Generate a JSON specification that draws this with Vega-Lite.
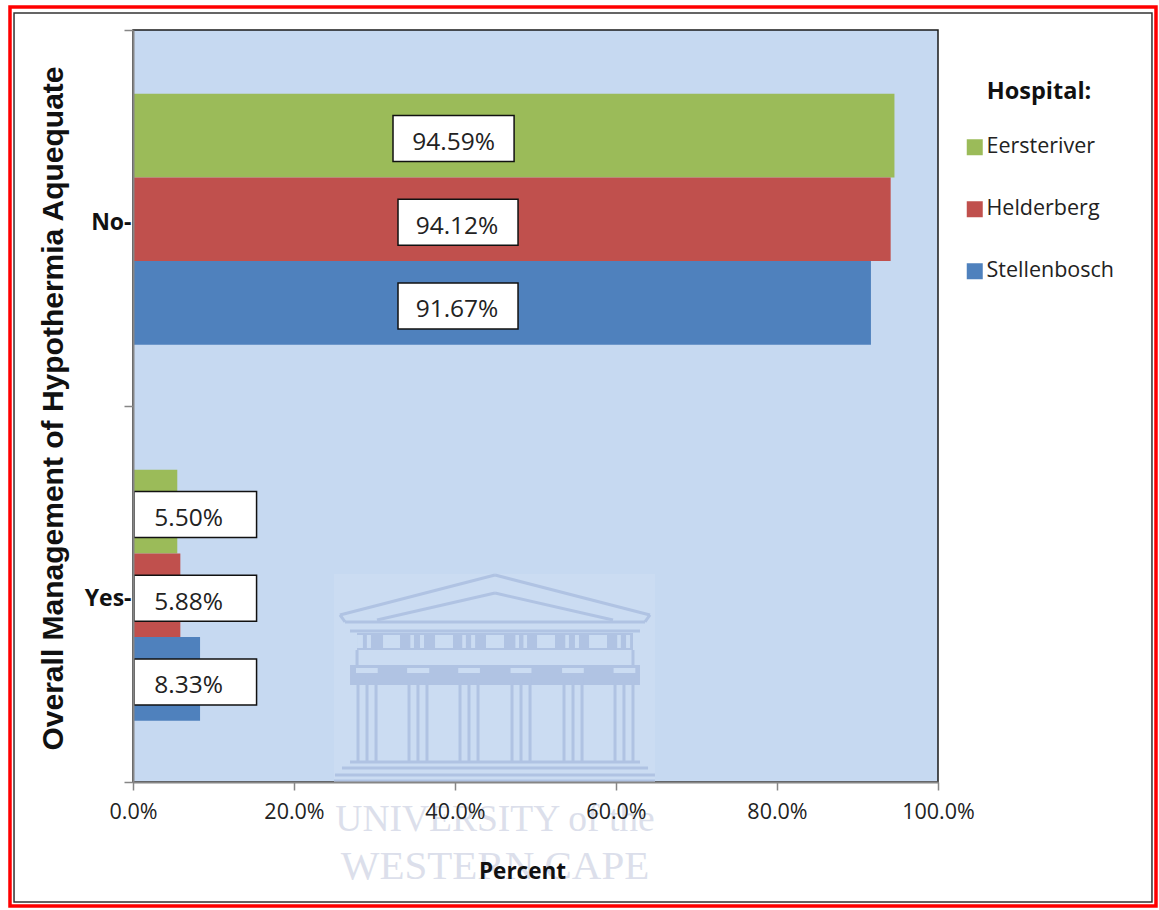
{
"$schema":"https://vega.github.io/schema/vega-lite/v6.json",
"width":805,"height":752,
"autosize":"none",
"padding":{"left":133,"top":30,"right":221,"bottom":128},
"background":"#ffffff",
"config":{"view":{"fill":"#C6D9F1","stroke":"#1a1a1a","strokeWidth":1.5}},
"datasets":{
"bars":[
{"mgmt":"No","hospital":"Eersteriver","pct":0.9459},
{"mgmt":"No","hospital":"Helderberg","pct":0.9412},
{"mgmt":"No","hospital":"Stellenbosch","pct":0.9167},
{"mgmt":"Yes","hospital":"Eersteriver","pct":0.055},
{"mgmt":"Yes","hospital":"Helderberg","pct":0.0588},
{"mgmt":"Yes","hospital":"Stellenbosch","pct":0.0833}],
"lines":[
{"x":0.2571,"x2":0.4497,"y":0.2221,"y2":0.2753},{"x":0.4497,"x2":0.6422,"y":0.2753,"y2":0.2221},
{"x":0.3031,"x2":0.4497,"y":0.2154,"y2":0.2513},{"x":0.4497,"x2":0.5963,"y":0.2513,"y2":0.2154},
{"x":0.2634,"x2":0.6360,"y":0.2128,"y2":0.2128},{"x":0.2696,"x2":0.6298,"y":0.2008,"y2":0.2008},
{"x":0.2571,"x2":0.2634,"y":0.2221,"y2":0.2128},{"x":0.6422,"x2":0.6360,"y":0.2221,"y2":0.2128},
{"x":0.2783,"x2":0.2783,"y":0.1755,"y2":0.1556},{"x":0.6211,"x2":0.6211,"y":0.1755,"y2":0.1556},
{"x":0.2795,"x2":0.2795,"y":0.1396,"y2":0.0266},{"x":0.2907,"x2":0.2907,"y":0.1396,"y2":0.0266},{"x":0.3019,"x2":0.3019,"y":0.1396,"y2":0.0266},
{"x":0.3429,"x2":0.3429,"y":0.1396,"y2":0.0266},{"x":0.3540,"x2":0.3540,"y":0.1396,"y2":0.0266},{"x":0.3652,"x2":0.3652,"y":0.1396,"y2":0.0266},
{"x":0.4062,"x2":0.4062,"y":0.1396,"y2":0.0266},{"x":0.4174,"x2":0.4174,"y":0.1396,"y2":0.0266},{"x":0.4286,"x2":0.4286,"y":0.1396,"y2":0.0266},
{"x":0.4708,"x2":0.4708,"y":0.1396,"y2":0.0266},{"x":0.4820,"x2":0.4820,"y":0.1396,"y2":0.0266},{"x":0.4932,"x2":0.4932,"y":0.1396,"y2":0.0266},
{"x":0.5354,"x2":0.5354,"y":0.1396,"y2":0.0266},{"x":0.5466,"x2":0.5466,"y":0.1396,"y2":0.0266},{"x":0.5578,"x2":0.5578,"y":0.1396,"y2":0.0266},
{"x":0.5988,"x2":0.5988,"y":0.1396,"y2":0.0266},{"x":0.6099,"x2":0.6099,"y":0.1396,"y2":0.0266},{"x":0.6211,"x2":0.6211,"y":0.1396,"y2":0.0266},
{"x":0.2696,"x2":0.6298,"y":0.0266,"y2":0.0266},{"x":0.2596,"x2":0.6398,"y":0.0186,"y2":0.0186},{"x":0.2509,"x2":0.6484,"y":0.0093,"y2":0.0093},{"x":0.2497,"x2":0.6484,"y":0.0013,"y2":0.0013}],
"darkBands":[
{"x":0.2783,"x2":0.6211,"y":0.1981,"y2":0.1755},
{"x":0.2696,"x2":0.6298,"y":0.1556,"y2":0.1290}],
"lightBands":[
{"x":0.3106,"x2":0.3317,"y":0.1955,"y2":0.1782},{"x":0.3752,"x2":0.3975,"y":0.1955,"y2":0.1782},
{"x":0.4385,"x2":0.4609,"y":0.1955,"y2":0.1782},{"x":0.5019,"x2":0.5242,"y":0.1955,"y2":0.1782},
{"x":0.5665,"x2":0.5888,"y":0.1955,"y2":0.1782},
{"x":0.2783,"x2":0.2856,"y":0.1955,"y2":0.1782},{"x":0.2905,"x2":0.2956,"y":0.1955,"y2":0.1782},
{"x":0.3445,"x2":0.3490,"y":0.1955,"y2":0.1782},{"x":0.3565,"x2":0.3615,"y":0.1955,"y2":0.1782},
{"x":0.4090,"x2":0.4135,"y":0.1955,"y2":0.1782},{"x":0.4200,"x2":0.4250,"y":0.1955,"y2":0.1782},
{"x":0.4750,"x2":0.4795,"y":0.1955,"y2":0.1782},{"x":0.4850,"x2":0.4895,"y":0.1955,"y2":0.1782},
{"x":0.5370,"x2":0.5415,"y":0.1955,"y2":0.1782},{"x":0.5490,"x2":0.5540,"y":0.1955,"y2":0.1782},
{"x":0.6015,"x2":0.6060,"y":0.1955,"y2":0.1782},{"x":0.6125,"x2":0.6175,"y":0.1955,"y2":0.1782},
{"x":0.2770,"x2":0.3040,"y":0.1516,"y2":0.1449},{"x":0.3405,"x2":0.3680,"y":0.1516,"y2":0.1449},
{"x":0.4040,"x2":0.4310,"y":0.1516,"y2":0.1449},{"x":0.4690,"x2":0.4950,"y":0.1516,"y2":0.1449},
{"x":0.5330,"x2":0.5600,"y":0.1516,"y2":0.1449},{"x":0.5970,"x2":0.6240,"y":0.1516,"y2":0.1449}]
},
"resolve":{"scale":{"y":"independent"}},
"layer":[
{"layer":[
{"data":{"values":[{}]},"mark":{"type":"rect","fill":"#CBDCF2"},"encoding":{
"x":{"datum":0.2497,"type":"quantitative","scale":{"domain":[0,1],"nice":false},
"axis":{"title":"Percent","orient":"bottom","format":".1%","values":[0,0.2,0.4,0.6,0.8,1],"grid":false,"titleFont":"Open Sans","titleFontSize":22.5,"titleFontWeight":"bold","titleColor":"#111111","titleX":389,"titleY":89,"titleBaseline":"middle","labelFont":"Open Sans","labelFontSize":21.5,"labelColor":"#222222","labelPadding":11,"labelFlush":false,"tickSize":8,"tickColor":"#868686","tickWidth":1.5,"domainColor":"#868686","domainWidth":2,"zindex":1}},"x2":{"datum":0.6484},
"y":{"datum":0.2766,"type":"quantitative","scale":{"domain":[0,1],"nice":false},
"axis":{"orient":"left","title":"Overall Management of Hypothermia Aquequate","values":[0,0.5,1],"labels":false,"grid":false,"titleFont":"Liberation Sans","titleFontSize":30,"titleFontWeight":"bold","titleColor":"#111111","titleX":-80,"titleY":378,"titleBaseline":"middle","tickSize":9,"tickColor":"#868686","tickWidth":1.5,"domainColor":"#868686","domainWidth":2,"zindex":1}},"y2":{"datum":0}}},
{"data":{"name":"darkBands"},"mark":{"type":"rect","fill":"#B0C3E3"},"encoding":{
"x":{"field":"x","type":"quantitative"},"x2":{"field":"x2"},"y":{"field":"y","type":"quantitative"},"y2":{"field":"y2"}}},
{"data":{"name":"lightBands"},"mark":{"type":"rect","fill":"#CBDCF2"},"encoding":{
"x":{"field":"x","type":"quantitative"},"x2":{"field":"x2"},"y":{"field":"y","type":"quantitative"},"y2":{"field":"y2"}}},
{"data":{"name":"lines"},"mark":{"type":"rule","stroke":"#B0C3E3","strokeWidth":3},"encoding":{
"x":{"field":"x","type":"quantitative"},"x2":{"field":"x2"},"y":{"field":"y","type":"quantitative"},"y2":{"field":"y2"}}},
{"data":{"values":[{"t":"UNIVERSITY of the","x":0.4497,"y":-0.0505}]},"mark":{"type":"text","font":"Liberation Serif","fontSize":37.5,"fill":"#DCDFEB"},"encoding":{
"x":{"field":"x","type":"quantitative"},"y":{"field":"y","type":"quantitative"},"text":{"field":"t"}}},
{"data":{"values":[{"t":"WESTERN CAPE","x":0.4497,"y":-0.113}]},"mark":{"type":"text","font":"Liberation Serif","fontSize":41,"fill":"#DCDFEB"},"encoding":{
"x":{"field":"x","type":"quantitative"},"y":{"field":"y","type":"quantitative"},"text":{"field":"t"}}},
{"data":{"values":[{}]},"mark":{"type":"rect","fill":null,"stroke":"#FF0000","strokeWidth":3.5},"encoding":{
"x":{"datum":-0.1528,"type":"quantitative"},"x2":{"datum":1.2708},"y":{"datum":1.0306,"type":"quantitative"},"y2":{"datum":-0.1650}}},
{"data":{"values":[{}]},"mark":{"type":"rect","fill":null,"stroke":"#333333","strokeWidth":1.5},"encoding":{
"x":{"datum":-0.1478,"type":"quantitative"},"x2":{"datum":1.2658},"y":{"datum":1.0226,"type":"quantitative"},"y2":{"datum":-0.1596}}}
]},
{"data":{"name":"bars"},"mark":{"type":"bar"},"encoding":{
"y":{"field":"mgmt","type":"nominal","sort":["No","Yes"],
"scale":{"domain":["No","Yes"],"paddingInner":0.3324,"paddingOuter":0.1662,"align":0.51},
"axis":{"orient":"left","title":null,"ticks":false,"domain":false,"grid":false,
"labelExpr":"datum.label + '-'","labelFont":"Open Sans","labelFontWeight":"bold","labelFontSize":23,"labelColor":"#111111","labelAngle":0,"labelOffset":4,"labelPadding":2,"zindex":1}},
"yOffset":{"field":"hospital","type":"nominal","scale":{"domain":["Eersteriver","Helderberg","Stellenbosch"],"paddingInner":0,"paddingOuter":0}},
"x":{"field":"pct","type":"quantitative"},
"color":{"field":"hospital","type":"nominal","scale":{"domain":["Eersteriver","Helderberg","Stellenbosch"],"range":["#9BBB59","#C0504D","#4F81BD"]},
"legend":{"orient":"none","legendX":831,"legendY":50,"title":"Hospital:","titleFont":"Open Sans","titleFontSize":23.5,"titleFontWeight":"bold","titleColor":"#111111","titlePadding":33,"titleAnchor":"middle","labelFont":"Open Sans","labelFontSize":21.5,"labelColor":"#222222","labelOffset":1,"symbolType":"square","symbolSize":256,"symbolStrokeWidth":0,"rowPadding":39,"padding":0}}}},
{"data":{"name":"bars"},"encoding":{
"y":{"field":"mgmt","type":"nominal","sort":["No","Yes"],"axis":null,
"scale":{"domain":["No","Yes"],"paddingInner":0.3324,"paddingOuter":0.1662,"align":0.534}},
"yOffset":{"field":"hospital","type":"nominal"}},
"layer":[
{"transform":[{"filter":"datum.mgmt=='No' && datum.hospital=='Eersteriver'"}],"layer":[
{"mark":{"type":"rect","height":46,"fill":"#fff","stroke":"#111","strokeWidth":1.5},"encoding":{"x":{"datum":0.3230,"type":"quantitative"},"x2":{"datum":0.4734}}},
{"mark":{"type":"text","font":"Open Sans","fontSize":24.5,"fill":"#222","dy":4.5},"encoding":{"x":{"datum":0.3982,"type":"quantitative"},"text":{"field":"pct","format":".2%"}}}]},
{"transform":[{"filter":"datum.mgmt=='No' && datum.hospital!='Eersteriver'"}],"layer":[
{"mark":{"type":"rect","height":46,"fill":"#fff","stroke":"#111","strokeWidth":1.5},"encoding":{"x":{"datum":0.3292,"type":"quantitative"},"x2":{"datum":0.4783}}},
{"mark":{"type":"text","font":"Open Sans","fontSize":24.5,"fill":"#222","dy":4.5},"encoding":{"x":{"datum":0.4025,"type":"quantitative"},"text":{"field":"pct","format":".2%"}}}]},
{"transform":[{"filter":"datum.mgmt=='Yes'"}],"layer":[
{"mark":{"type":"rect","height":46,"fill":"#fff","stroke":"#111","strokeWidth":1.5},"encoding":{"x":{"datum":0.0012,"type":"quantitative"},"x2":{"datum":0.1535}}},
{"mark":{"type":"text","font":"Open Sans","fontSize":24.5,"fill":"#222","dy":4.5},"encoding":{"x":{"datum":0.0690,"type":"quantitative"},"text":{"field":"pct","format":".2%"}}}]}
]}
]
}
